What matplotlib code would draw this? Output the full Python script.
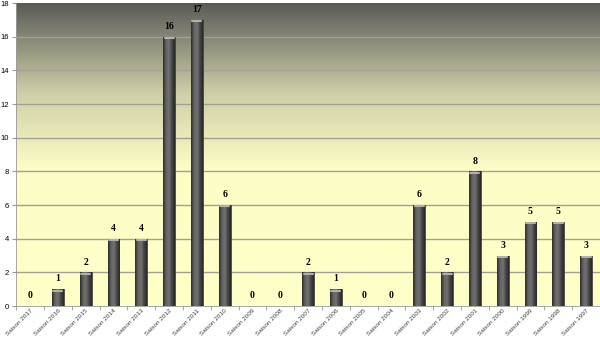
import numpy as np
import matplotlib
matplotlib.use('Agg')
import matplotlib.pyplot as plt
from matplotlib.colors import LinearSegmentedColormap

seasons = ['Saison 2017', 'Saison 2016', 'Saison 2015', 'Saison 2014', 'Saison 2013',
           'Saison 2012', 'Saison 2011', 'Saison 2010', 'Saison 2009', 'Saison 2008',
           'Saison 2007', 'Saison 2006', 'Saison 2005', 'Saison 2004', 'Saison 2003',
           'Saison 2002', 'Saison 2001', 'Saison 2000', 'Saison 1999', 'Saison 1998',
           'Saison 1997']
values = [0, 1, 2, 4, 4, 16, 17, 6, 0, 0, 2, 1, 0, 0, 6, 2, 8, 3, 5, 5, 3]
yticks = [0, 2, 4, 6, 8, 10, 12, 14, 16, 18]

fig = plt.figure(figsize=(6, 3.39), dpi=100)
ax = fig.add_axes([0.027, 0.097, 0.973, 0.894])

x = np.arange(len(seasons))
ax.set_xlim(-0.5, len(seasons) - 0.5)
ax.set_ylim(0, 18)

# background gradient: dark gray at top to pale yellow lower down
bg = LinearSegmentedColormap.from_list('bg', [(0.0, '#ffffc8'), (0.45, '#fdfdc6'),
                                              (0.7, '#cfcfa8'), (1.0, '#5a5a56')])
grad = np.linspace(0, 1, 256).reshape(-1, 1)
ax.imshow(grad, cmap=bg, origin='lower', aspect='auto',
          extent=[-0.5, len(seasons) - 0.5, 0, 18], zorder=0)

for yv in yticks[1:-1]:
    ax.axhline(yv, color='#a0a096', lw=1.0, zorder=1)

# cylinder-like bars
cyl = LinearSegmentedColormap.from_list('cyl', ['#2c2c2c', '#626262', '#727272', '#464646', '#282828'])
hgrad = np.linspace(0, 1, 64).reshape(1, -1)
w = 0.42
bars = ax.bar(x, values, width=w, color='#555555', edgecolor='#333333', lw=0.5, zorder=2)
for b, v in zip(bars, values):
    if v <= 0:
        continue
    im = ax.imshow(hgrad, cmap=cyl, aspect='auto',
                   extent=[b.get_x(), b.get_x() + w, 0, v], zorder=3)
    im.set_clip_path(b)
    ax.plot([b.get_x() + 0.05, b.get_x() + w - 0.05], [v - 0.08, v - 0.08],
            color='#b0b0b0', lw=1.5, solid_capstyle='round', zorder=4)
    ax.text(b.get_x() + w / 2, v + 0.35, str(v), ha='center', va='bottom',
            fontsize=7, fontweight='bold', family='Liberation Serif', zorder=5)
for xi, v in zip(x, values):
    if v == 0:
        ax.text(xi, 0.35, '0', ha='center', va='bottom', fontsize=7,
                fontweight='bold', family='Liberation Serif', zorder=5)

ax.set_yticks(yticks)
ax.set_yticklabels([str(t) for t in yticks], fontsize=5.5, family='Liberation Sans')
ax.set_xticks(x)
ax.set_xticklabels(seasons, rotation=45, ha='right', rotation_mode='anchor',
                   fontsize=4.6, color='#444444', family='Liberation Sans')
ax.set_xticks(np.arange(-0.5, len(seasons), 1), minor=True)
ax.tick_params(axis='x', which='major', length=0, pad=1.5)
ax.tick_params(axis='x', which='minor', length=3, color='#999999')
ax.tick_params(axis='y', length=3, color='#999999', pad=2)
for s in ['top', 'right']:
    ax.spines[s].set_visible(False)
ax.spines['left'].set_color('#999999')
ax.spines['bottom'].set_color('#999999')
ax.spines['left'].set_linewidth(0.6)
ax.spines['bottom'].set_linewidth(0.6)

fig.savefig('out.png', dpi=100)
